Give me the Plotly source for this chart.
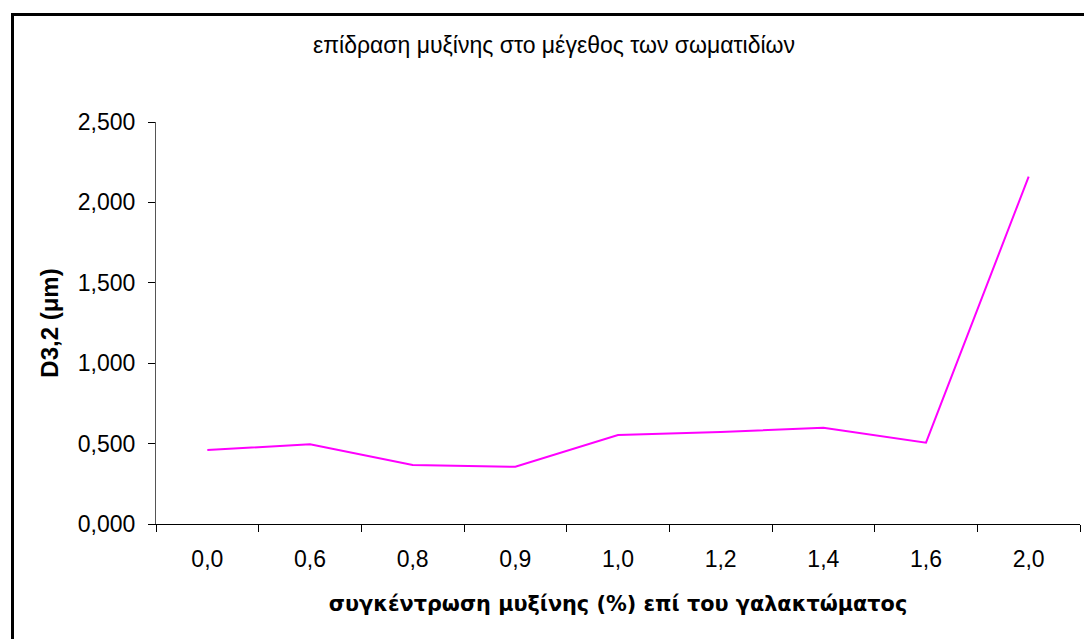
import plotly.graph_objects as go

# Mucin concentration (% of emulsion) and mean droplet size D3,2 (μm)
concentrations = ["0,0", "0,6", "0,8", "0,9", "1,0", "1,2", "1,4", "1,6", "2,0"]
d32_values = [0.460, 0.496, 0.367, 0.356, 0.553, 0.572, 0.599, 0.506, 2.160]
y_ticks = [0.0, 0.5, 1.0, 1.5, 2.0, 2.5]

W, H = 1084, 639
L, R, T, B = 156, 4, 122, 115
pw = W - L - R
ph = H - T - B


def px_x(x):
    return (x - L) / pw


def px_y(y):
    return (H - B - y) / ph


fig = go.Figure(
    go.Scatter(
        x=concentrations,
        y=d32_values,
        mode="lines",
        line=dict(color="#FF00FF", width=2),
        showlegend=False,
    )
)

fig.update_layout(
    width=W,
    height=H,
    margin=dict(l=L, r=R, t=T, b=B),
    paper_bgcolor="white",
    plot_bgcolor="white",
    separators=",.",
    font=dict(family="Liberation Sans, Arial, sans-serif", size=23, color="black"),
    title=dict(
        text="επίδραση μυξίνης στο μέγεθος των σωματιδίων",
        x=554 / W,
        xref="container",
        xanchor="center",
        y=1 - 45 / H,
        yref="container",
        yanchor="middle",
        font=dict(family="Liberation Sans, Arial, sans-serif", size=23),
    ),
    xaxis=dict(
        type="category",
        range=[-0.5, 8.5],
        showline=True,
        linecolor="black",
        linewidth=1,
        ticks="outside",
        tickson="boundaries",
        ticklen=7,
        tickcolor="black",
        showgrid=False,
        zeroline=False,
        ticklabelstandoff=14,
        title=dict(
            text="<b>συγκέντρωση μυξίνης (%) επί του γαλακτώματος</b>",
            font=dict(family="DejaVu Sans, Verdana, sans-serif", size=20.8),
            standoff=25,
        ),
    ),
    yaxis=dict(
        range=[0, 2.5],
        tickvals=y_ticks,
        tickformat=".3f",
        showline=True,
        linecolor="#555555",
        linewidth=1,
        ticks="outside",
        ticklen=7,
        tickcolor="black",
        showgrid=False,
        zeroline=False,
        ticklabelstandoff=8,
        title=dict(
            text="<b>D3,2 (μm)</b>",
            font=dict(family="Liberation Sans, Arial, sans-serif", size=24),
            standoff=12,
        ),
    ),
    shapes=[
        dict(
            type="rect",
            xref="paper",
            yref="paper",
            x0=px_x(12.5),
            x1=px_x(1120),
            y0=px_y(680),
            y1=px_y(14.5),
            line=dict(color="black", width=3),
            fillcolor="rgba(0,0,0,0)",
            layer="below",
        )
    ],
)

fig.write_html("out.html")
